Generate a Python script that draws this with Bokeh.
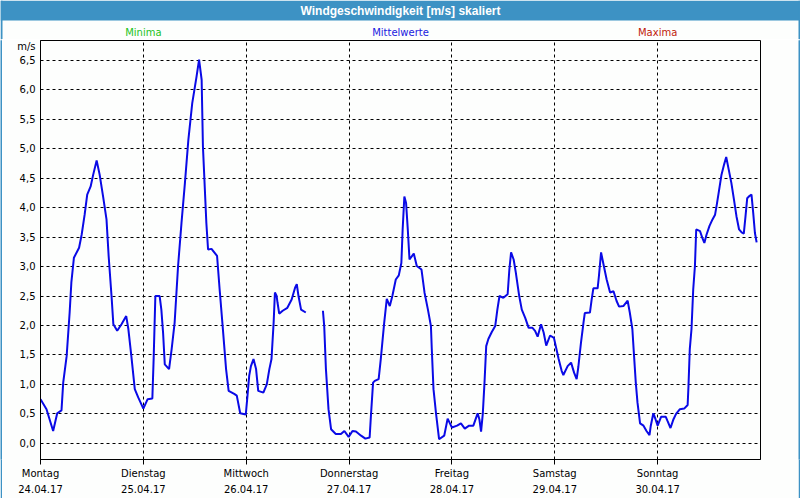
from bokeh.plotting import figure
from bokeh.layouts import column, row
from bokeh.models import Range1d, FixedTicker
from bokeh.core.properties import value
from bokeh.embed import file_html
from bokeh.resources import INLINE

# ---------------- data ----------------
title_text = "Windgeschwindigkeit [m/s] skaliert"
series_names = ["Minima", "Mittelwerte", "Maxima"]
series_colors = ["#22C322", "#2020E0", "#C01A0A"]
series_label_hours = [24, 84, 144]

day_names = ["Montag", "Dienstag", "Mittwoch", "Donnerstag", "Freitag", "Samstag", "Sonntag"]
day_dates = ["24.04.17", "25.04.17", "26.04.17", "27.04.17", "28.04.17", "29.04.17", "30.04.17"]
day_hours = [0, 24, 48, 72, 96, 120, 144]

y_ticks = [0.0, 0.5, 1.0, 1.5, 2.0, 2.5, 3.0, 3.5, 4.0, 4.5, 5.0, 5.5, 6.0, 6.5]
y_tick_labels = ["0,0", "0,5", "1,0", "1,5", "2,0", "2,5", "3,0", "3,5", "4,0", "4,5", "5,0", "5,5", "6,0", "6,5"]
y_unit = "m/s"

# hours since Monday 00:00, mean wind speed (m/s); NaN = missing data
hours = [0, 1.4, 2.95, 3.9, 4.9, 5.3, 6.1, 6.8, 7.2, 7.8, 9.0, 9.6, 10.3, 10.9, 11.7, 12.3, 13.1, 13.8,
         14.6, 15.4, 15.9, 16.6, 17.0, 17.9, 18.9, 20.0, 20.5, 21.2, 22.0, 22.8, 24.0, 25.0, 26.1, 26.4,
         26.8, 27.8, 28.2, 28.6, 29.0, 30.0, 30.6, 31.3, 32.1, 32.9, 33.7, 34.5, 35.4, 36.4, 37.0, 37.6,
         37.9, 38.7, 39.1, 39.9, 41.2, 41.8, 42.5, 43.3, 43.9, 45.2, 45.8, 46.6, 47.9, 48.3, 48.7, 49.1,
         49.7, 50.3, 50.8, 52.0, 52.8, 53.4, 53.9, 54.4, 54.7, 55.1, 55.3, 55.7, 56.5, 57.6, 58.6, 59.4,
         59.8, 60.2, 60.8, 61.9,
         63.9,
         65.9, 66.2, 66.6, 67.2, 67.8, 68.9, 70.1, 70.9, 71.9, 72.8, 73.6, 74.8, 75.8, 76.8, 77.1, 77.6,
         78.0, 78.9, 79.4, 80.2, 80.8, 81.5, 82.1, 82.9, 83.6, 84.2, 84.5, 84.9, 85.3, 85.7, 86.1, 87.1,
         87.8, 88.9, 89.6, 90.4, 91.1, 91.3, 91.7, 92.3, 93.0, 94.2, 95.0, 96.0, 97.2, 98.1, 99.0, 100.0,
         101.0, 102.0, 102.4, 102.8, 103.2, 103.6, 104.0, 104.5, 105.3, 106.1, 106.6, 107.1, 108.0, 109.0,
         109.4, 109.8, 110.4, 110.9, 111.7, 112.3, 113.1, 113.9, 114.8, 115.4, 116.0, 116.8, 117.4, 118.0,
         118.9, 119.8, 120.9, 121.6, 122.0, 123.0, 123.8, 124.5, 125.1, 125.5, 126.1, 126.7, 127.0, 128.2,
         128.6, 129.0, 130.0, 130.3, 130.8, 131.3, 132.1, 132.9, 133.7, 134.4, 135.0, 136.0, 137.0, 137.5,
         138.1, 138.5, 138.9, 139.3, 139.9, 140.7, 141.4, 142.1, 142.4, 143.0, 143.5, 144.0, 144.8, 145.9,
         146.3, 147.0, 147.7, 148.3, 149.2, 150.2, 151.0, 151.2, 151.5, 151.9, 152.3, 152.7, 153.0, 153.9,
         154.4, 154.9, 155.4, 156.1, 156.8, 157.4, 157.8, 158.3, 158.9, 159.5, 160.0, 160.6, 161.2, 161.8,
         162.4, 163.0, 163.6, 164.1, 164.5, 164.9, 165.3, 165.9, 166.3, 166.7, 167.1]
speeds = [0.75, 0.58, 0.21, 0.51, 0.56, 1.03, 1.48, 2.22, 2.73, 3.15, 3.32, 3.54, 3.88, 4.22, 4.36, 4.56, 4.80, 4.56,
          4.19, 3.80, 3.18, 2.47, 2.02, 1.91, 2.02, 2.16, 1.94, 1.48, 0.92, 0.78, 0.59, 0.75, 0.76, 1.43,
          2.50, 2.50, 2.27, 1.88, 1.34, 1.26, 1.60, 2.05, 3.01, 3.74, 4.42, 5.15, 5.77, 6.22, 6.51, 6.17,
          5.04, 3.74, 3.29, 3.30, 3.18, 2.61, 1.99, 1.26, 0.89, 0.84, 0.81, 0.51, 0.49, 0.81, 1.15, 1.31,
          1.43, 1.26, 0.89, 0.86, 1.00, 1.26, 1.43, 2.05, 2.56, 2.50, 2.39, 2.20, 2.25, 2.30, 2.44, 2.64,
          2.70, 2.50, 2.27, 2.22,
          float("nan"),
          2.25, 1.99, 1.26, 0.58, 0.24, 0.16, 0.16, 0.21, 0.11, 0.21, 0.20, 0.13, 0.08, 0.10, 0.47, 1.03,
          1.06, 1.09, 1.43, 2.05, 2.45, 2.33, 2.50, 2.78, 2.85, 3.06, 3.63, 4.19, 4.08, 3.63, 3.12, 3.22,
          3.01, 2.95, 2.56, 2.27, 1.99, 1.60, 0.92, 0.50, 0.07, 0.13, 0.42, 0.27, 0.30, 0.34, 0.25, 0.30,
          0.30, 0.51, 0.41, 0.20, 0.50, 1.03, 1.65, 1.77, 1.89, 1.99, 2.27, 2.50, 2.47, 2.53,
          2.95, 3.24, 3.12, 2.90, 2.50, 2.27, 2.13, 1.96, 1.96, 1.91, 1.81, 2.02, 1.88, 1.66,
          1.83, 1.79, 1.43, 1.23, 1.16, 1.31, 1.37, 1.20, 1.09, 1.30, 1.70, 2.05, 2.21, 2.22,
          2.44, 2.63, 2.63, 2.84, 3.24, 3.06, 2.78, 2.56, 2.58, 2.42, 2.32, 2.33, 2.42, 2.22,
          1.94, 1.48, 1.03, 0.69, 0.34, 0.30, 0.21, 0.14, 0.30, 0.51, 0.41, 0.30, 0.45, 0.45,
          0.38, 0.26, 0.41, 0.50, 0.58, 0.59, 0.65, 0.98, 1.60, 1.94, 2.61, 3.01, 3.63, 3.60,
          3.49, 3.40, 3.54, 3.69, 3.80, 3.88, 4.05, 4.28, 4.56, 4.73, 4.86, 4.64, 4.42, 4.14,
          3.85, 3.63, 3.58, 3.56, 3.85, 4.16, 4.19, 4.22, 3.91, 3.57, 3.41]

# ---------------- layout ----------------
W, H = 800, 500
EDGE = 2                  # blue window border
HEAD = 39                 # header strip height (title bar + series names)
BAR = 20                  # title bar height
X0, X1 = 0, 168
Y0, Y1 = -0.274, 6.836
FRAME_W, FRAME_H = 720, 420
FRAME_LEFT = 40           # canvas x of the plot frame's left edge

FONT = "DejaVu Sans"
BLUE_CHROME = "#3D92C4"
BG = "#FDFEFD"


def blank(width, height, color):
    f = figure(width=width, height=height, output_backend="svg", toolbar_location=None,
               min_border=0, x_range=Range1d(0, 1), y_range=Range1d(0, 1))
    f.axis.visible = False
    f.grid.visible = False
    f.outline_line_color = None
    f.background_fill_color = color
    f.border_fill_color = color
    return f


# header: title bar + series names (pixel space, y downward)
head = figure(width=W, height=HEAD, output_backend="svg", toolbar_location=None, min_border=0,
              x_range=Range1d(0, W), y_range=Range1d(HEAD, 0))
head.axis.visible = False
head.grid.visible = False
head.outline_line_color = None
head.background_fill_color = BG
head.border_fill_color = BG
head.quad(left=[0, 0, W - EDGE], right=[W, EDGE, W], top=[0, 0, 0], bottom=[BAR, HEAD, HEAD],
          fill_color=BLUE_CHROME, line_color=None)
head.text(x=[W / 2], y=[BAR / 2 + 0.5], text=[title_text], text_align="center", text_baseline="middle",
          text_color="white", text_font=value("Liberation Sans"), text_font_style="bold",
          text_font_size="12px")
label_px = [FRAME_LEFT + h * FRAME_W / (X1 - X0) for h in series_label_hours]
head.text(x=label_px, y=[32] * 3, text=series_names, text_align="center", text_baseline="middle",
          text_color=series_colors, text_font=value(FONT), text_font_size="10px")

# main chart
MAIN_W = W - 2 * EDGE
MAIN_H = H - HEAD - EDGE
b_left = FRAME_LEFT - EDGE
b_right = MAIN_W - b_left - FRAME_W
b_top = 1
b_bottom = MAIN_H - b_top - FRAME_H

p = figure(width=MAIN_W, height=MAIN_H, output_backend="svg", toolbar_location=None,
           x_range=Range1d(X0, X1), y_range=Range1d(Y0, Y1),
           min_border_left=b_left, min_border_right=b_right, min_border_top=b_top,
           min_border_bottom=b_bottom)
p.background_fill_color = BG
p.border_fill_color = BG
p.outline_line_color = "black"
p.outline_line_width = 1
p.outline_line_alpha = 1

p.xgrid.ticker = FixedTicker(ticks=day_hours[1:])
p.ygrid.ticker = FixedTicker(ticks=y_ticks)
for g in (p.xgrid, p.ygrid):
    g.grid_line_color = "black"
    g.grid_line_dash = "3 3"
    g.grid_line_width = 1
    g.grid_line_alpha = 1

# y axis: numeric ticks plus the unit label just under the top edge
unit_pos = Y1 - 6.5 * (Y1 - Y0) / FRAME_H
ya = p.yaxis[0]
ya.ticker = FixedTicker(ticks=y_ticks + [unit_pos])
overrides = {t: lab for t, lab in zip(y_ticks, y_tick_labels)}
overrides[unit_pos] = y_unit
ya.major_label_overrides = overrides
ya.major_tick_out = 0
ya.major_tick_in = 0
ya.minor_tick_out = 0
ya.minor_tick_in = 0
ya.major_label_standoff = 5
ya.major_label_text_font = FONT
ya.major_label_text_font_size = "10px"
ya.major_label_text_color = "black"
ya.axis_line_color = "black"

xa = p.xaxis[0]
xa.ticker = FixedTicker(ticks=day_hours)
xa.major_label_overrides = {h: f"{n}\n{d}" for h, n, d in zip(day_hours, day_names, day_dates)}
xa.major_tick_out = 5
xa.major_tick_in = 0
xa.minor_tick_out = 0
xa.minor_tick_in = 0
xa.major_label_standoff = 3
xa.major_label_text_font = FONT
xa.major_label_text_font_size = "10px"
xa.major_label_text_color = "black"
xa.major_label_text_line_height = 1.5
xa.axis_line_color = "black"

p.line(hours, speeds, line_width=2, line_color="#0A0AE6")

layout = column(
    head,
    row(blank(EDGE, MAIN_H, BLUE_CHROME), p, blank(EDGE, MAIN_H, BLUE_CHROME), spacing=0),
    blank(W, EDGE, BLUE_CHROME),
    spacing=0,
)

open("out.html", "w").write(file_html(layout, INLINE))
